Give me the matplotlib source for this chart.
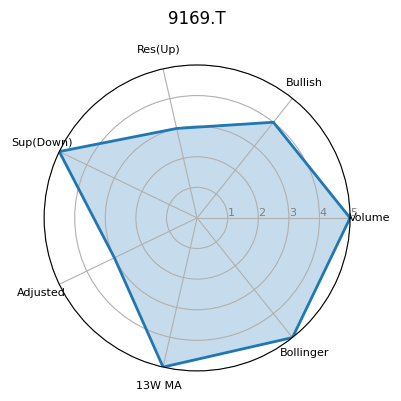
import numpy as np
import matplotlib
matplotlib.use('Agg')
import matplotlib.pyplot as plt

# 레이더 차트 데이터
title = '9169.T'
categories = ['Volume', 'Bullish', 'Res(Up)', 'Sup(Down)', 'Adjusted', '13W MA', 'Bollinger']
values = [5, 4, 3, 5, 3, 5, 5]
rticks = [1, 2, 3, 4, 5]

n = len(categories)
angles = np.linspace(0, 2 * np.pi, n, endpoint=False).tolist()
angles += angles[:1]
vals = values + values[:1]

fig = plt.figure(figsize=(4.01, 4.01), dpi=100)
ax = fig.add_axes([0.11, 0.075, 0.763, 0.763], polar=True)

ax.plot(angles, vals, color='#1f77b4', linewidth=2)
ax.fill(angles, vals, color='#1f77b4', alpha=0.25)

ax.set_xticks(angles[:-1])
ax.set_xticklabels(categories, fontsize=8)
ax.set_rlabel_position(0)
ax.set_yticks(rticks)
ax.set_yticklabels([str(t) for t in rticks], color='grey', fontsize=8)
ax.set_ylim(0, 5)
ax.grid(color='#b0b0b0', linewidth=0.8)

fig.text(0.491, 0.953, title, fontsize=12, ha='center', va='center')

plt.savefig('out.png', dpi=100)
